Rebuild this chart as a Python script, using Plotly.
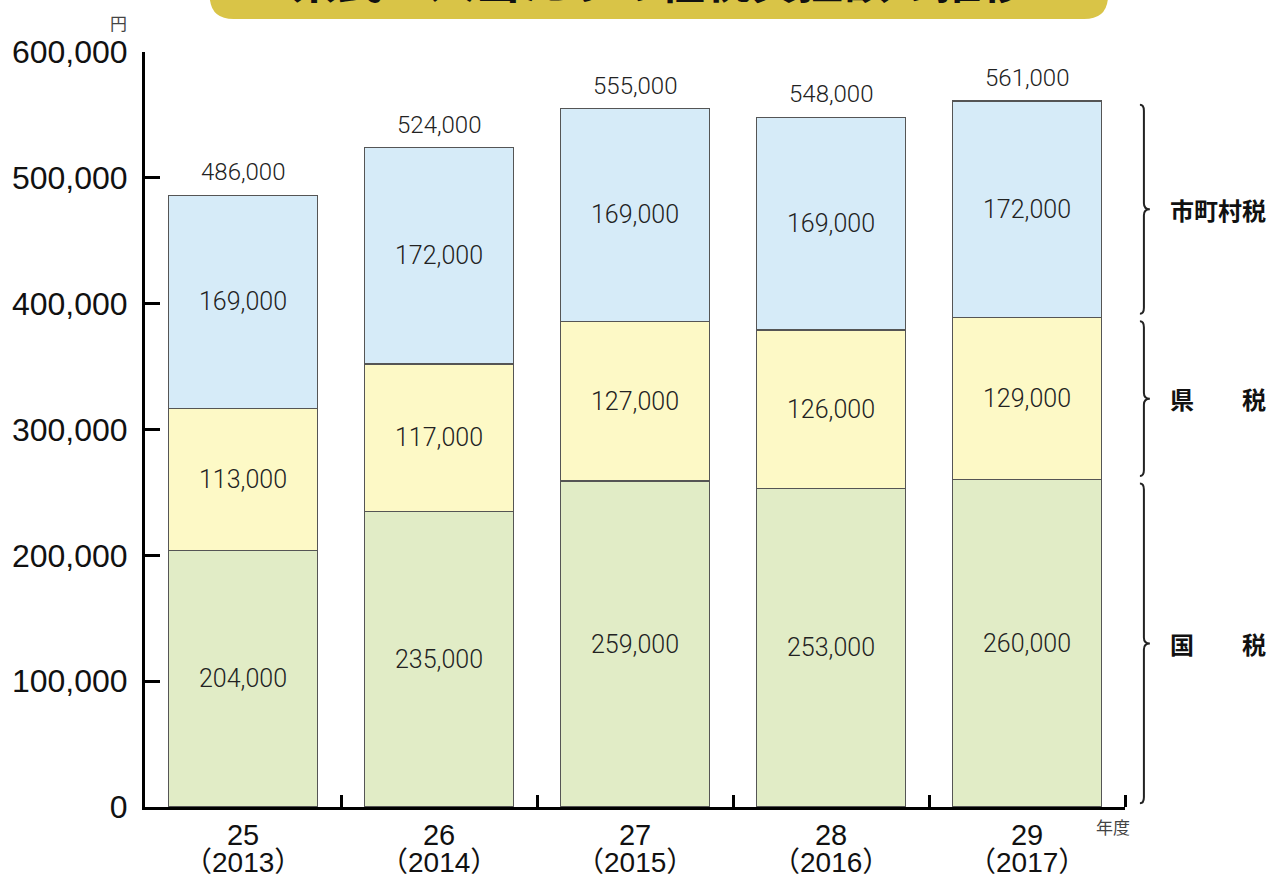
import plotly.graph_objects as go

heisei = ["25", "26", "27", "28", "29"]
years = ["2013", "2014", "2015", "2016", "2017"]
kokuzei = [204000, 235000, 259000, 253000, 260000]
kenzei = [113000, 117000, 127000, 126000, 129000]
shichoson = [169000, 172000, 169000, 169000, 172000]
totals = [486000, 524000, 555000, 548000, 561000]
series_names = ["国　　税", "県　　税", "市町村税"]
series_colors = ["#e1ecc6", "#fdf9c6", "#d6ebf8"]
title_text = "県民１人当たりの租税負担額の推移"

NUM_FONT = "Liberation Sans, Arial, Noto Sans CJK JP"
LIGHT_FONT = "Roboto, Liberation Sans, Arial"
JP_FONT = "Noto Sans CJK JP"

L, R, T, B = 140, 152, 52, 72
W, H = 1277, 879
PW, PH = W - L - R, H - T - B


def px_x(p):
    return (p - L) / PW


def px_y(p):
    return (H - B - p) / PH


fig = go.Figure()
for name, vals, col in zip(series_names, [kokuzei, kenzei, shichoson], series_colors):
    fig.add_trace(go.Bar(
        x=list(range(len(heisei))), y=vals, name=name,
        marker=dict(color=col, line=dict(color="#555555", width=1.2)),
        width=0.76,
        texttemplate="%{y:,}", textposition="inside", insidetextanchor="middle",
        textangle=0,
        textfont=dict(family=LIGHT_FONT, size=25, color="#222222", weight=300),
        cliponaxis=False,
        hoverinfo="skip",
    ))

annotations = []
for i, tot in enumerate(totals):
    annotations.append(dict(x=i, y=tot, xref="x", yref="y", text=f"{tot:,}",
                            showarrow=False, yanchor="bottom", yshift=7,
                            font=dict(family=LIGHT_FONT, size=24, color="#222222", weight=300)))
for i, yr in enumerate(years):
    annotations.append(dict(x=i, y=px_y(862), xref="x", yref="paper", text=f"（{yr}）",
                            showarrow=False, yanchor="middle",
                            font=dict(family=NUM_FONT, size=28, color="#111111")))

annotations.append(dict(x=px_x(113), y=px_y(22), xref="paper", yref="paper", text="円",
                        showarrow=False, xanchor="center", yanchor="middle",
                        font=dict(family=JP_FONT, size=17, color="#444444")))
annotations.append(dict(x=px_x(1113), y=px_y(827), xref="paper", yref="paper", text="年度",
                        showarrow=False, xanchor="center", yanchor="middle",
                        font=dict(family=JP_FONT, size=17, color="#444444")))

# braces for the last bar segments
shapes = []
last_bottoms = [0, kokuzei[-1], kokuzei[-1] + kenzei[-1]]
last_tops = [kokuzei[-1], kokuzei[-1] + kenzei[-1], totals[-1]]
gap = 3000
d = 6 * 600000 / PH
x0, xl, xp = px_x(1140), px_x(1144), px_x(1150)
for name, lo, hi in zip(series_names, last_bottoms, last_tops):
    ytop, ybot = hi - gap, lo + gap
    ymid = (ytop + ybot) / 2
    path = (f"M {x0},{ytop} Q {xl},{ytop} {xl},{ytop - d} L {xl},{ymid + d} "
            f"Q {xl},{ymid} {xp},{ymid} Q {xl},{ymid} {xl},{ymid - d} "
            f"L {xl},{ybot + d} Q {xl},{ybot} {x0},{ybot}")
    shapes.append(dict(type="path", xref="paper", yref="y", path=path,
                       line=dict(color="#222222", width=2)))
    annotations.append(dict(x=px_x(1168), y=ymid, xref="paper", yref="y", text=name,
                            showarrow=False, xanchor="left", yanchor="middle",
                            font=dict(family=JP_FONT, size=24, color="#111111", weight="bold")))

# title banner (cut off at top)
bx0, bx1 = px_x(205), px_x(1108)
by0, by1 = px_y(19), px_y(-40)
rx, ry = 24 / PW, 24 / PH
banner = (f"M {bx0},{by1} L {bx0},{by0 + ry} Q {bx0},{by0} {bx0 + rx},{by0} "
          f"L {bx1 - rx},{by0} Q {bx1},{by0} {bx1},{by0 + ry} L {bx1},{by1} Z")
shapes.append(dict(type="path", xref="paper", yref="paper", path=banner,
                   fillcolor="#d9c447", line=dict(width=0), layer="above"))
annotations.append(dict(x=(bx0 + bx1) / 2, y=px_y(13), xref="paper", yref="paper",
                        text=title_text, showarrow=False, xanchor="center", yanchor="bottom",
                        font=dict(family=JP_FONT, size=46, color="#111111", weight="bold")))

fig.update_layout(
    barmode="stack",
    width=W, height=H,
    margin=dict(l=L, r=R, t=T, b=B),
    paper_bgcolor="white", plot_bgcolor="white",
    showlegend=False,
    shapes=shapes,
    annotations=annotations,
    xaxis=dict(
        range=[-0.5, 4.5], tickmode="array", tickvals=list(range(len(heisei))),
        ticktext=heisei, ticks="", showline=True, linecolor="black", linewidth=3,
        showgrid=False, tickfont=dict(family=NUM_FONT, size=29, color="#111111"),
        ticklabelstandoff=0, zeroline=False,
        minor=dict(tickvals=[i + 0.5 for i in range(len(heisei))], ticks="inside",
                   ticklen=12, tickwidth=3, tickcolor="black", showgrid=False),
    ),
    yaxis=dict(
        range=[0, 600000], tickvals=[0, 100000, 200000, 300000, 400000, 500000, 600000],
        tickformat=",", ticks="inside", ticklen=15, tickwidth=3, tickcolor="black",
        showline=True, linecolor="black", linewidth=3, showgrid=False, zeroline=False,
        tickfont=dict(family=NUM_FONT, size=32, color="#111111"),
        ticklabelstandoff=8,
    ),
)

fig.write_html("out.html", config={"displayModeBar": False},
               post_script="document.body.style.margin='0';document.body.style.overflow='hidden';")
